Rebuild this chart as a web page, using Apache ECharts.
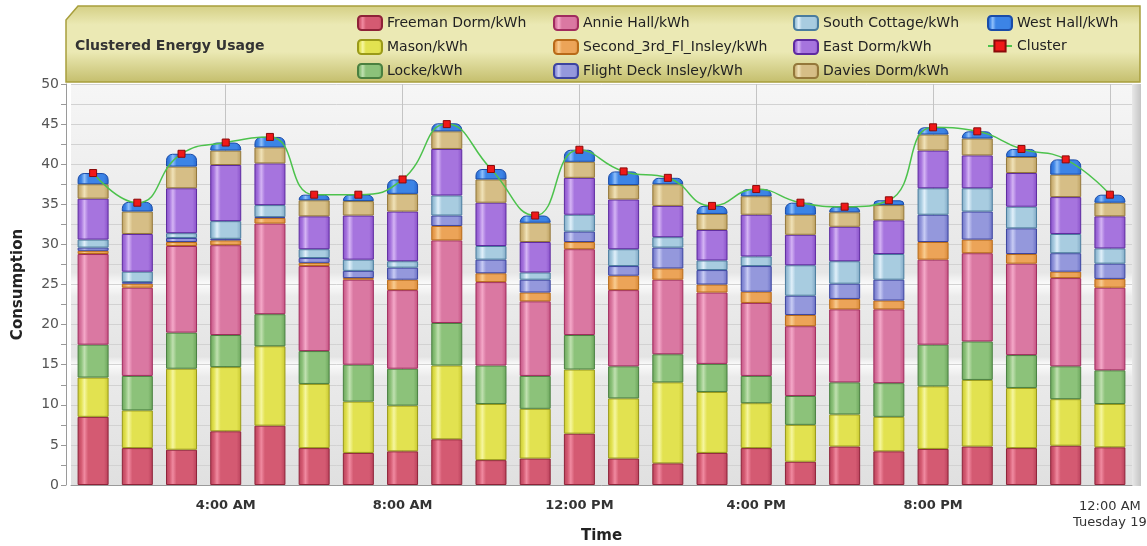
<!DOCTYPE html>
<html>
<head>
<meta charset="utf-8">
<script src="https://cdn.jsdelivr.net/npm/echarts@6/dist/echarts.min.js"></script>
<style>
html,body{margin:0;padding:0;background:#ffffff;}
#chart{width:1147px;height:546px;}
</style>
</head>
<body>
<div id="chart"></div>
<script>
// ---- data ----
const categories = ['1:00 AM','2:00 AM','3:00 AM','4:00 AM','5:00 AM','6:00 AM','7:00 AM','8:00 AM','9:00 AM','10:00 AM','11:00 AM','12:00 PM',
  '1:00 PM','2:00 PM','3:00 PM','4:00 PM','5:00 PM','6:00 PM','7:00 PM','8:00 PM','9:00 PM','10:00 PM','11:00 PM','12:00 AM'];
const tickLabels = ['4:00 AM','8:00 AM','12:00 PM','4:00 PM','8:00 PM','12:00 AM'];
const lastDayLabel = 'Tuesday 19';

const freeman = [8.5,4.6,4.4,6.7,7.4,4.6,4.0,4.2,5.7,3.1,3.3,6.4,3.3,2.7,4.0,4.6,2.9,4.8,4.2,4.5,4.8,4.6,4.9,4.7];
const mason   = [4.9,4.7,10.1,8.0,9.9,8.0,6.4,5.7,9.2,7.0,6.2,8.0,7.5,10.1,7.6,5.6,4.6,4.0,4.3,7.8,8.3,7.5,5.8,5.4];
const locke   = [4.1,4.3,4.5,4.0,4.0,4.1,4.6,4.6,5.3,4.8,4.1,4.3,4.0,3.5,3.5,3.4,3.6,4.0,4.2,5.2,4.8,4.1,4.1,4.2];
const annie   = [11.3,11.0,10.8,11.2,11.3,10.6,10.6,9.8,10.3,10.4,9.3,10.7,9.5,9.3,8.9,9.1,8.7,9.1,9.2,10.6,11.0,11.4,11.0,10.3];
const second  = [0.4,0.5,0.5,0.6,0.7,0.4,0.2,1.3,1.8,1.1,1.1,0.9,1.8,1.4,1.0,1.4,1.4,1.3,1.1,2.2,1.7,1.2,0.8,1.1];
const flight  = [0.4,0.2,0.5,0.2,0.1,0.6,0.9,1.5,1.3,1.7,1.6,1.3,1.2,2.6,1.8,3.2,2.4,1.9,2.6,3.4,3.5,3.2,2.3,1.9];
const south   = [1.0,1.3,0.6,2.2,1.5,1.1,1.4,0.8,2.5,1.7,0.9,2.1,2.1,1.3,1.2,1.2,3.8,2.8,3.2,3.3,2.9,2.7,2.4,1.9];
const east    = [5.1,4.7,5.6,7.0,5.2,4.1,5.5,6.2,5.8,5.4,3.8,4.6,6.2,3.9,3.8,5.2,3.8,4.3,4.2,4.7,4.1,4.2,4.6,4.0];
const davies  = [1.8,2.8,2.7,1.8,2.0,2.0,1.8,2.2,2.2,2.9,2.4,2.0,1.8,2.7,2.0,2.3,2.5,1.8,1.9,2.0,2.1,2.0,2.8,1.7];
const west    = [1.4,1.2,1.6,1.0,1.3,0.7,0.8,1.8,1.0,1.3,0.9,1.5,1.7,0.8,1.0,0.9,1.5,0.7,0.6,0.9,0.9,1.0,1.9,1.0];
const cluster = [38.9,35.2,41.3,42.7,43.4,36.2,36.2,38.1,45.0,39.4,33.6,41.8,39.1,38.3,34.8,36.9,35.2,34.7,35.5,44.6,44.1,41.9,40.6,36.2];

const seriesNames = ['Freeman Dorm/kWh','Mason/kWh','Locke/kWh','Annie Hall/kWh','Second_3rd_Fl_Insley/kWh',
  'Flight Deck Insley/kWh','South Cottage/kWh','East Dorm/kWh','Davies Dorm/kWh','West Hall/kWh'];
const seriesData = [freeman, mason, locke, annie, second, flight, south, east, davies, west];
// [edge dark, highlight, base, border]
const palette = [
  ['#b8405a','#f08aa0','#d45a72','#8e2238'],
  ['#c8c830','#f6f6a0','#e2e250','#9a9a18'],
  ['#6aa45a','#c0e0b0','#8cc27a','#4a8040'],
  ['#c45080','#f4a8c8','#da78a2','#a02c5e'],
  ['#d88a38','#f8cc90','#eca458','#b86a18'],
  ['#6a70c4','#c8ccf4','#9498dc','#3c44a0'],
  ['#80a8c4','#e0f0fa','#a8cce0','#4a7c9e'],
  ['#8850c8','#d4b4f4','#a674de','#5e2aa0'],
  ['#bca060','#f0e2b8','#d6be86','#94783a'],
  ['#2868d0','#90c0fa','#3c84e6','#1a4ca8']
];
function gloss(p){
  return new echarts.graphic.LinearGradient(0,0,1,0,[
    {offset:0,color:p[0]},{offset:0.12,color:p[2]},{offset:0.22,color:p[1]},
    {offset:0.34,color:p[2]},{offset:0.85,color:p[2]},{offset:1,color:p[0]}]);
}

const series = seriesData.map((d,i)=>({
  name: seriesNames[i], type:'bar', stack:'total', data:d, barWidth:31,
  itemStyle:{color:gloss(palette[i]), borderColor:palette[i][3], borderWidth:1,
    borderRadius: i===9 ? [6,6,0,0] : 0},
  emphasis:{disabled:true}
}));
series.push({
  name:'Cluster', type:'line', data:cluster, smooth:true, z:10,
  symbol:'rect', symbolSize:7,
  lineStyle:{color:'#4cc24c', width:1.5},
  itemStyle:{color:'#f01818', borderColor:'#8a0a0a', borderWidth:1},
  emphasis:{disabled:true}
});
series.push({
  name:'vgrid', type:'line', data:[], z:0, silent:true,
  markLine:{silent:true, z:0, symbol:'none', animation:false, label:{show:false},
    lineStyle:{color:'#c4c4c4', type:'solid', width:1},
    data: tickLabels.map(t=>({xAxis:t}))}
});

const legendText = {fontFamily:'DejaVu Sans', fontSize:14, color:'#222'};
function col(left, names){
  return {orient:'vertical', left:left, top:10, itemGap:8, itemWidth:24, itemHeight:14,
    textStyle:legendText, data:names, selectedMode:false};
}
const rr = n => ({name:n, icon:'roundRect'});

const chart = echarts.init(document.getElementById('chart'));
chart.setOption({
  animation:false,
  backgroundColor:'#ffffff',
  graphic:[
    {type:'polygon', z:-10, silent:true,
     shape:{points:[[66,20],[78,6],[1140,6],[1140,82],[66,82]]},
     style:{fill:new echarts.graphic.LinearGradient(0,0,0,1,[
        {offset:0,color:'#d4cf84'},{offset:0.25,color:'#ebe9b4'},{offset:0.6,color:'#ebe9b4'},{offset:1,color:'#c4be6c'}]),
       stroke:'#a89f3c', lineWidth:1.5}},
    {type:'text', left:75, top:39, z:5, silent:true,
     style:{text:'Clustered Energy Usage', fontFamily:'DejaVu Sans', fontWeight:'bold', fontSize:14, fill:'#333'}},
    {type:'rect', z:-5, silent:true, shape:{x:1132,y:84,width:9,height:402},
     style:{fill:new echarts.graphic.LinearGradient(0,0,1,0,[{offset:0,color:'#e8e8e8'},{offset:1,color:'#c4c4c4'}])}}
  ],
  legend:[
    col(352,seriesNames.slice(0,3).map(rr)),
    col(548,seriesNames.slice(3,6).map(rr)),
    col(788,seriesNames.slice(6,9).map(rr)),
    col(982,[rr(seriesNames[9]), {name:'Cluster'}])
  ],
  grid:{left:71, right:15, top:84, bottom:61, show:true, borderWidth:0, outerBoundsMode:'none', containLabel:false,
    backgroundColor:new echarts.graphic.LinearGradient(0,0,0,1,[
      {offset:0,color:'#f6f6f6'},{offset:0.47,color:'#e6e6e6'},{offset:0.5,color:'#fbfbfb'},
      {offset:0.53,color:'#ebebeb'},{offset:0.68,color:'#e4e4e4'},{offset:0.7,color:'#fbfbfb'},
      {offset:0.73,color:'#eaeaea'},{offset:1,color:'#e0e0e0'}])},
  xAxis:{
    type:'category', data:categories, boundaryGap:true,
    axisLine:{lineStyle:{color:'#9a9a9a'}},
    axisTick:{alignWithLabel:true, length:5, lineStyle:{color:'#9a9a9a'},
      interval:(i,v)=>tickLabels.indexOf(v)>=0},
    axisLabel:{interval:(i,v)=>tickLabels.indexOf(v)>=0, margin:14,
      fontFamily:'DejaVu Sans', fontWeight:'bold', fontSize:13, color:'#333',
      formatter:(v,i)=> i===categories.length-1 ? '{r|'+v+'}\n{r|'+lastDayLabel+'}' : v,
      rich:{r:{fontFamily:'DejaVu Sans', fontWeight:'normal', fontSize:13, color:'#333', lineHeight:16}}},
    splitLine:{show:false},
    name:'Time', nameLocation:'middle', nameGap:44, nameMoveOverlap:false,
    nameTextStyle:{fontFamily:'DejaVu Sans', fontWeight:'bold', fontSize:15, color:'#222'}
  },
  yAxis:{
    type:'value', min:0, max:50, interval:2.5, offset:5,
    axisLine:{show:true, lineStyle:{color:'#9a9a9a'}},
    axisTick:{show:true, length:5, lineStyle:{color:'#9a9a9a'}},
    axisLabel:{formatter:v=> (v%5===0 ? String(v) : ''), margin:7,
      fontFamily:'DejaVu Sans', fontSize:14, color:'#555'},
    splitLine:{lineStyle:{color:'#d2d2d2'}},
    name:'Consumption', nameLocation:'middle', nameGap:40, nameMoveOverlap:false,
    nameTextStyle:{fontFamily:'DejaVu Sans', fontWeight:'bold', fontSize:15, color:'#222'}
  },
  series:series
});
</script>
</body>
</html>
